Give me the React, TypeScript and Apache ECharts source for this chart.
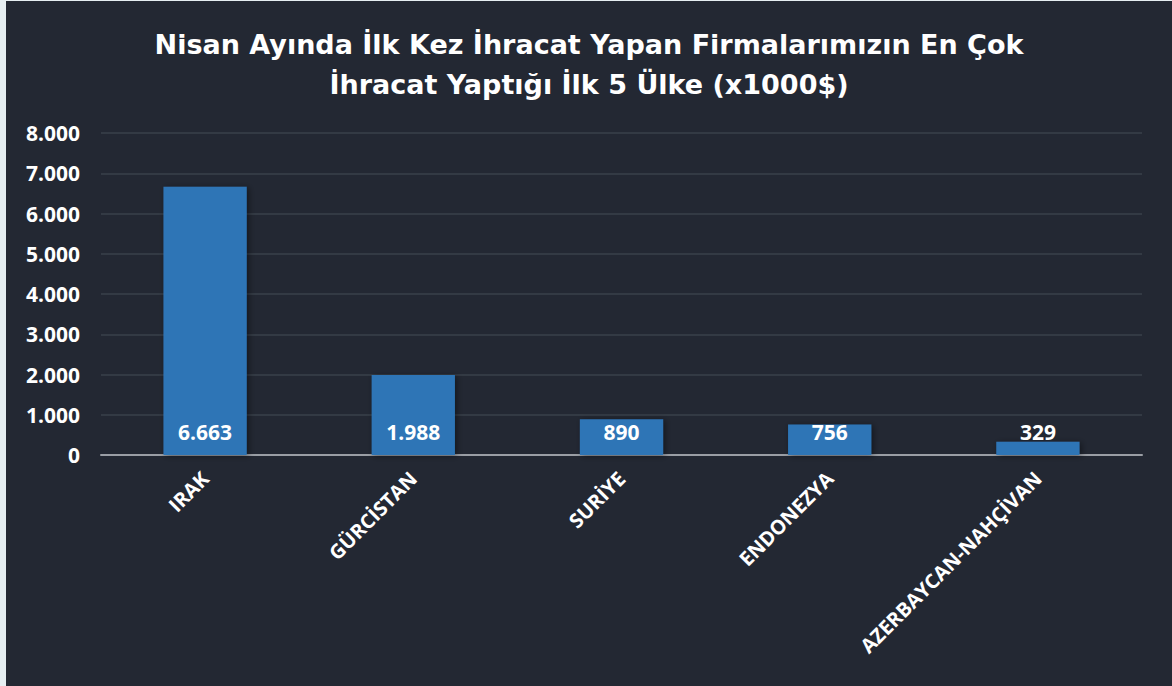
import React, { useEffect, useRef } from "react";
import * as echarts from "echarts";

const categories = ["IRAK", "GÜRCİSTAN", "SURİYE", "ENDONEZYA", "AZERBAYCAN-NAHÇİVAN"];
const values = [6663, 1988, 890, 756, 329];
const titleText = "Nisan Ayında İlk Kez İhracat Yapan Firmalarımızın En Çok\nİhracat Yaptığı İlk 5 Ülke (x1000$)";

const fmt = (v: number) => String(v).replace(/\B(?=(\d{3})+(?!\d))/g, ".");

export default function App() {
  const ref = useRef<HTMLDivElement>(null);
  useEffect(() => {
    if (!ref.current) return;
    const chart = echarts.init(ref.current, undefined, { renderer: "svg" });
    const font = "'Open Sans', 'Noto Sans', sans-serif";
    chart.setOption({
      animation: false,
      backgroundColor: "#232833",
      title: {
        text: titleText,
        left: "center",
        top: 18,
        textStyle: {
          color: "#ffffff",
          fontFamily: "'DejaVu Sans', sans-serif",
          fontWeight: "bold",
          fontSize: 27,
          lineHeight: 40,
        },
      },
      grid: { left: 95, right: 30, top: 132, bottom: 231, containLabel: false },
      xAxis: {
        type: "category",
        data: categories,
        axisLine: { lineStyle: { color: "#9a9ea5", width: 2 } },
        axisTick: { show: false },
        axisLabel: {
          rotate: 45,
          color: "#ffffff",
          fontFamily: font,
          fontWeight: "bold",
          fontSize: 20,
          margin: 20,
          interval: 0,
        },
      },
      yAxis: {
        type: "value",
        min: 0,
        max: 8000,
        interval: 1000,
        axisLine: { show: false },
        axisTick: { show: false },
        splitLine: { lineStyle: { color: "#3a404b", width: 1.5 } },
        axisLabel: {
          color: "#ffffff",
          fontFamily: font,
          fontWeight: "bold",
          fontSize: 21,
          margin: 21,
          formatter: (v: number) => fmt(v),
        },
      },
      series: [
        {
          type: "bar",
          data: values,
          barWidth: "40%",
          itemStyle: {
            color: "#2e75b6",
            shadowColor: "rgba(0,0,0,0.45)",
            shadowBlur: 6,
            shadowOffsetX: 2,
            shadowOffsetY: 1,
          },
          label: {
            show: true,
            position: "insideBottom",
            distance: 13,
            color: "#ffffff",
            fontFamily: font,
            fontWeight: "bold",
            fontSize: 21,
            formatter: (p: any) => fmt(p.value),
          },
        },
      ],
    });
    return () => chart.dispose();
  }, []);
  return (
    <div style={{ position: "fixed", left: 0, top: 0, width: 1172, height: 686, background: "#e6eef1" }}>
      <div ref={ref} style={{ position: "absolute", left: 6, top: 1, width: 1166, height: 685 }} />
    </div>
  );
}
